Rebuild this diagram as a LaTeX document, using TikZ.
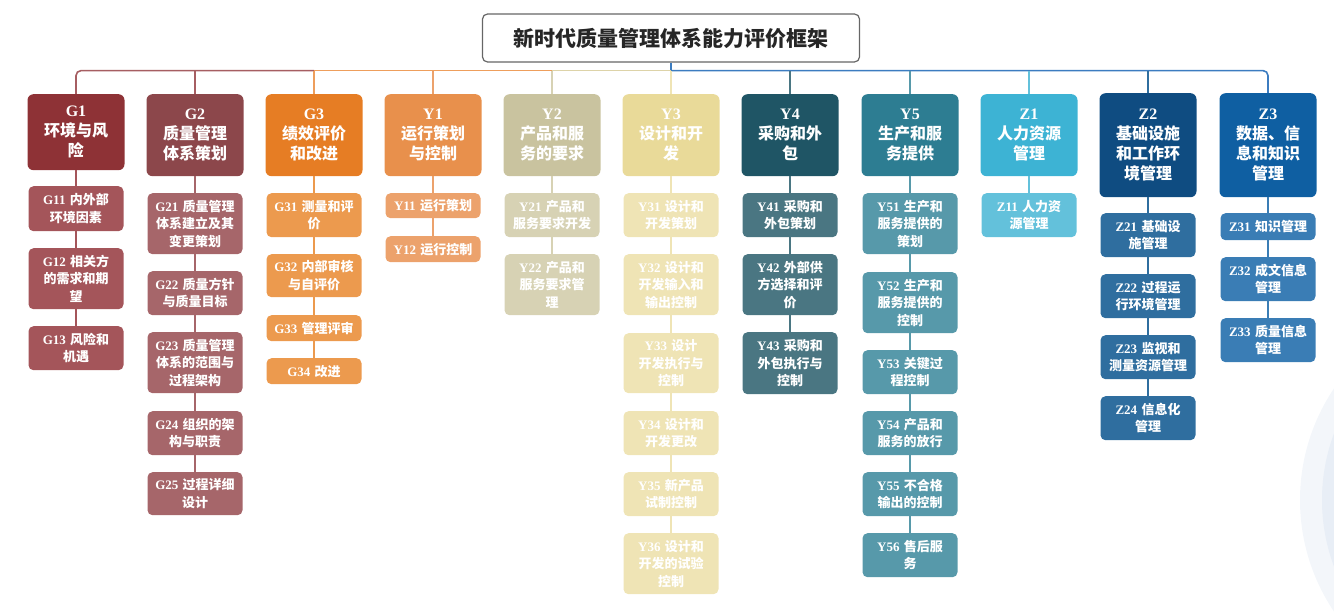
\documentclass[tikz,border=0pt]{standalone}
\usepackage{fontspec}
\setmainfont{Liberation Serif}
\newfontfamily\cjk{Noto Sans CJK SC}
\newcommand\cd[1]{{\rmfamily\bfseries #1}}
\definecolor{tG1}{HTML}{8E3236}\definecolor{kG1}{HTML}{A4555A}
\definecolor{tG2}{HTML}{8C474B}\definecolor{kG2}{HTML}{A6666A}
\definecolor{tG3}{HTML}{E67D24}\definecolor{kG3}{HTML}{EC9A4E}
\definecolor{tY1}{HTML}{E8904C}\definecolor{kY1}{HTML}{ECA26C}
\definecolor{tY2}{HTML}{C9C39F}\definecolor{kY2}{HTML}{D7D2B4}
\definecolor{tY3}{HTML}{E9DA99}\definecolor{kY3}{HTML}{EFE4B5}
\definecolor{tY4}{HTML}{1F5565}\definecolor{kY4}{HTML}{4A7682}
\definecolor{tY5}{HTML}{2D7D92}\definecolor{kY5}{HTML}{5799AA}
\definecolor{tZ1}{HTML}{3DB3D4}\definecolor{kZ1}{HTML}{63C1DB}
\definecolor{tZ2}{HTML}{0F4C81}\definecolor{kZ2}{HTML}{2F6E9F}
\definecolor{tZ3}{HTML}{0F5FA2}\definecolor{kZ3}{HTML}{3A7DB5}
\definecolor{barG}{HTML}{A65E62}\definecolor{barO}{HTML}{EE9E5C}
\definecolor{barT}{HTML}{DDD3A8}\definecolor{barB}{HTML}{3C7CC0}
\definecolor{decoA}{HTML}{F3F6FA}\definecolor{decoB}{HTML}{E8EEF6}
\tikzset{
  topbox/.style={rounded corners=6, minimum width=97, text width=95, align=center, anchor=north,
    font=\cjk\bfseries\fontsize{16}{20}\selectfont, text=white, inner sep=0},
  kidbox/.style={rounded corners=5, minimum width=95, text width=93, align=center, anchor=north,
    font=\cjk\bfseries\fontsize{13}{17.5}\selectfont, text=white, inner sep=0},
  titlebox/.style={rounded corners=5, draw=black!60, line width=1.2, minimum width=377, minimum height=48,
    font=\cjk\bfseries\fontsize{21}{24}\selectfont, text=black!85, inner sep=0},
  ln/.style={line width=1.6}
}
\begin{document}
\begin{tikzpicture}[x=1pt,y=-1pt]
\useasboundingbox (0,0) rectangle (1334,615);
\begin{scope}
\clip (0,0) rectangle (1334,615);
\fill[decoA] (1500,500) circle (200);
\fill[decoB] (1512,500) circle (190);
\end{scope}
\node[titlebox] (title) at (671,38) {新时代质量管理体系能力评价框架};
% top boxes
\node[topbox, fill=tG1, minimum height=76] (G1) at (76,94) {\cd{G1}\\环境与风\\险};
\node[topbox, fill=tG2, minimum height=82] (G2) at (195,94) {\cd{G2}\\质量管理\\体系策划};
\node[topbox, fill=tG3, minimum height=82] (G3) at (314,94) {\cd{G3}\\绩效评价\\和改进};
\node[topbox, fill=tY1, minimum height=82] (Y1) at (433,94) {\cd{Y1}\\运行策划\\与控制};
\node[topbox, fill=tY2, minimum height=82] (Y2) at (552,94) {\cd{Y2}\\产品和服\\务的要求};
\node[topbox, fill=tY3, minimum height=82] (Y3) at (671,94) {\cd{Y3}\\设计和开\\发};
\node[topbox, fill=tY4, minimum height=82] (Y4) at (790,94) {\cd{Y4}\\采购和外\\包};
\node[topbox, fill=tY5, minimum height=82] (Y5) at (910,94) {\cd{Y5}\\生产和服\\务提供};
\node[topbox, fill=tZ1, minimum height=82] (Z1) at (1029,94) {\cd{Z1}\\人力资源\\管理};
\node[topbox, fill=tZ2, minimum height=104] (Z2) at (1148,93) {\cd{Z2}\\基础设施\\和工作环\\境管理};
\node[topbox, fill=tZ3, minimum height=104] (Z3) at (1268,93) {\cd{Z3}\\数据、信\\息和知识\\管理};
% G1
\node[kidbox, fill=kG1, minimum height=45] (G11) at (76,186) {\cd{G11} 内外部\\环境因素};
\node[kidbox, fill=kG1, minimum height=61] (G12) at (76,248) {\cd{G12} 相关方\\的需求和期\\望};
\node[kidbox, fill=kG1, minimum height=44] (G13) at (76,326) {\cd{G13} 风险和\\机遇};
% G2
\node[kidbox, fill=kG2, minimum height=61] (G21) at (195,193) {\cd{G21} 质量管理\\体系建立及其\\变更策划};
\node[kidbox, fill=kG2, minimum height=44] (G22) at (195,271) {\cd{G22} 质量方针\\与质量目标};
\node[kidbox, fill=kG2, minimum height=61] (G23) at (195,332) {\cd{G23} 质量管理\\体系的范围与\\过程架构};
\node[kidbox, fill=kG2, minimum height=44] (G24) at (195,411) {\cd{G24} 组织的架\\构与职责};
\node[kidbox, fill=kG2, minimum height=43] (G25) at (195,472) {\cd{G25} 过程详细\\设计};
% G3
\node[kidbox, fill=kG3, minimum height=44] (G31) at (314,193) {\cd{G31} 测量和评\\价};
\node[kidbox, fill=kG3, minimum height=43] (G32) at (314,254) {\cd{G32} 内部审核\\与自评价};
\node[kidbox, fill=kG3, minimum height=26] (G33) at (314,315) {\cd{G33} 管理评审};
\node[kidbox, fill=kG3, minimum height=26] (G34) at (314,358) {\cd{G34} 改进};
% Y1
\node[kidbox, fill=kY1, minimum height=25] (Y11) at (433,193) {\cd{Y11} 运行策划};
\node[kidbox, fill=kY1, minimum height=26] (Y12) at (433,236) {\cd{Y12} 运行控制};
% Y2
\node[kidbox, fill=kY2, minimum height=44] (Y21) at (552,193) {\cd{Y21} 产品和\\服务要求开发};
\node[kidbox, fill=kY2, minimum height=61] (Y22) at (552,254) {\cd{Y22} 产品和\\服务要求管\\理};
% Y3
\node[kidbox, fill=kY3, minimum height=44] (Y31) at (671,193) {\cd{Y31} 设计和\\开发策划};
\node[kidbox, fill=kY3, minimum height=61] (Y32) at (671,254) {\cd{Y32} 设计和\\开发输入和\\输出控制};
\node[kidbox, fill=kY3, minimum height=60] (Y33) at (671,333) {\cd{Y33} 设计\\开发执行与\\控制};
\node[kidbox, fill=kY3, minimum height=44] (Y34) at (671,411) {\cd{Y34} 设计和\\开发更改};
\node[kidbox, fill=kY3, minimum height=44] (Y35) at (671,472) {\cd{Y35} 新产品\\试制控制};
\node[kidbox, fill=kY3, minimum height=61] (Y36) at (671,533) {\cd{Y36} 设计和\\开发的试验\\控制};
% Y4
\node[kidbox, fill=kY4, minimum height=44] (Y41) at (790,193) {\cd{Y41} 采购和\\外包策划};
\node[kidbox, fill=kY4, minimum height=61] (Y42) at (790,254) {\cd{Y42} 外部供\\方选择和评\\价};
\node[kidbox, fill=kY4, minimum height=62] (Y43) at (790,332) {\cd{Y43} 采购和\\外包执行与\\控制};
% Y5
\node[kidbox, fill=kY5, minimum height=61] (Y51) at (910,193) {\cd{Y51} 生产和\\服务提供的\\策划};
\node[kidbox, fill=kY5, minimum height=61] (Y52) at (910,272) {\cd{Y52} 生产和\\服务提供的\\控制};
\node[kidbox, fill=kY5, minimum height=44] (Y53) at (910,350) {\cd{Y53} 关键过\\程控制};
\node[kidbox, fill=kY5, minimum height=44] (Y54) at (910,411) {\cd{Y54} 产品和\\服务的放行};
\node[kidbox, fill=kY5, minimum height=44] (Y55) at (910,472) {\cd{Y55} 不合格\\输出的控制};
\node[kidbox, fill=kY5, minimum height=44] (Y56) at (910,533) {\cd{Y56} 售后服\\务};
% Z1
\node[kidbox, fill=kZ1, minimum height=44] (Z11) at (1029,193) {\cd{Z11} 人力资\\源管理};
% Z2
\node[kidbox, fill=kZ2, minimum height=44] (Z21) at (1148,213) {\cd{Z21} 基础设\\施管理};
\node[kidbox, fill=kZ2, minimum height=44] (Z22) at (1148,274) {\cd{Z22} 过程运\\行环境管理};
\node[kidbox, fill=kZ2, minimum height=44] (Z23) at (1148,335) {\cd{Z23} 监视和\\测量资源管理};
\node[kidbox, fill=kZ2, minimum height=44] (Z24) at (1148,396) {\cd{Z24} 信息化\\管理};
% Z3
\node[kidbox, fill=kZ3, minimum height=27] (Z31) at (1268,213) {\cd{Z31} 知识管理};
\node[kidbox, fill=kZ3, minimum height=44] (Z32) at (1268,257) {\cd{Z32} 成文信息\\管理};
\node[kidbox, fill=kZ3, minimum height=44] (Z33) at (1268,318) {\cd{Z33} 质量信息\\管理};
% bar
\path (title.south) ++(0,8) coordinate (hub);
\draw[ln, barB] (title.south) -- (hub);
\draw[ln, barG, rounded corners=5] (G1.north) |- (hub -| G3.north);
\draw[ln, barO] (hub -| G3.north) -- (hub -| Y2.north);
\draw[ln, barT] (hub -| Y2.north) -- (hub);
\draw[ln, barB, rounded corners=5] (hub) -| (Z3.north);
\draw[ln, barG] (G2.north) -- (G2.north |- hub);
\draw[ln, barO] (G3.north) -- (G3.north |- hub);
\draw[ln, kY1] (Y1.north) -- (Y1.north |- hub);
\draw[ln, kY2] (Y2.north) -- (Y2.north |- hub);
\draw[ln, kY3] (Y3.north) -- (Y3.north |- hub);
\draw[ln, kY4] (Y4.north) -- (Y4.north |- hub);
\draw[ln, kY5] (Y5.north) -- (Y5.north |- hub);
\draw[ln, kZ1] (Z1.north) -- (Z1.north |- hub);
\draw[ln, kZ2] (Z2.north) -- (Z2.north |- hub);
% chains
\draw[ln, kG1] (G1) -- (G11) -- (G12) -- (G13);
\draw[ln, kG2] (G2) -- (G21) -- (G22) -- (G23) -- (G24) -- (G25);
\draw[ln, kG3] (G3) -- (G31) -- (G32) -- (G33) -- (G34);
\draw[ln, kY1] (Y1) -- (Y11) -- (Y12);
\draw[ln, kY2] (Y2) -- (Y21) -- (Y22);
\draw[ln, kY3] (Y3) -- (Y31) -- (Y32) -- (Y33) -- (Y34) -- (Y35) -- (Y36);
\draw[ln, kY4] (Y4) -- (Y41) -- (Y42) -- (Y43);
\draw[ln, kY5] (Y5) -- (Y51) -- (Y52) -- (Y53) -- (Y54) -- (Y55) -- (Y56);
\draw[ln, kZ1] (Z1) -- (Z11);
\draw[ln, kZ2] (Z2) -- (Z21) -- (Z22) -- (Z23) -- (Z24);
\draw[ln, kZ3] (Z3) -- (Z31) -- (Z32) -- (Z33);
\end{tikzpicture}
\end{document}
